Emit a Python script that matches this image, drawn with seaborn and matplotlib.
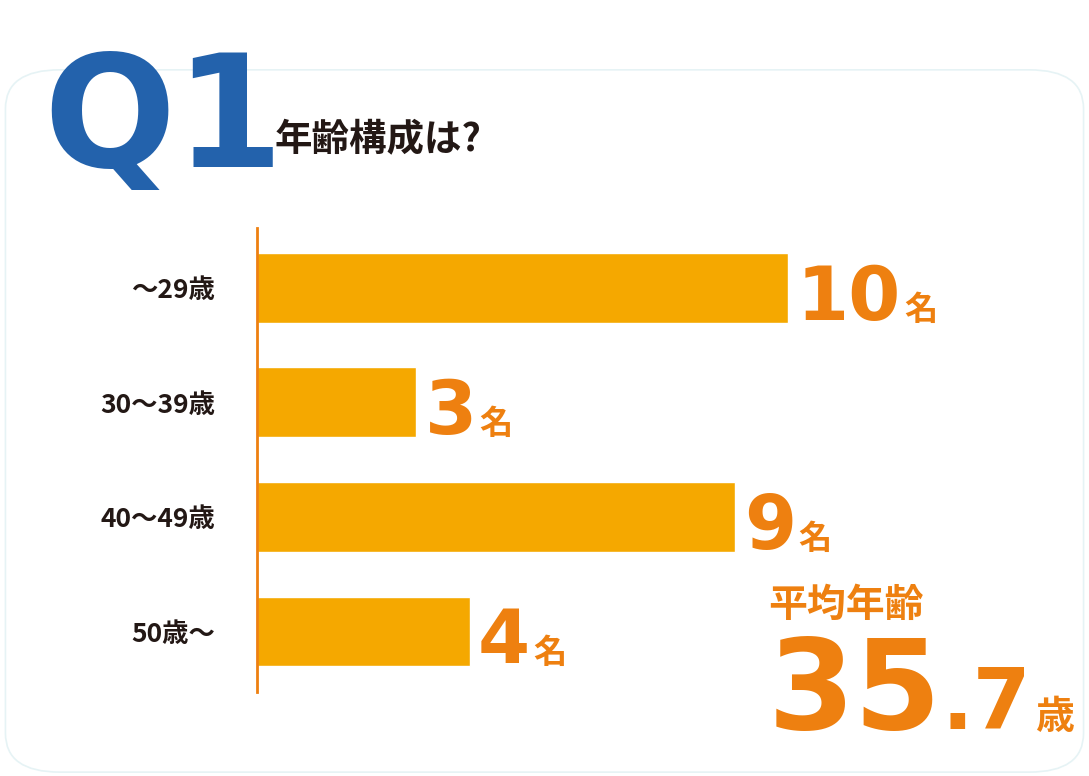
import matplotlib
matplotlib.use("Agg")
import matplotlib.pyplot as plt
import seaborn as sns
import pandas as pd
from matplotlib.patches import FancyBboxPatch

categories = ["～29歳", "30～39歳", "40～49歳", "50歳～"]
counts = [10, 3, 9, 4]
unit = "名"
avg_label = "平均年齢"
avg_int = "35"
avg_dec = ".7"
avg_unit = "歳"

BAR = "#F5A800"
ORANGE = "#EE8010"
BLUE = "#2362AC"
DARK = "#231815"
JP = ["Noto Sans CJK JP", "DejaVu Sans"]
NUM = ["Liberation Sans Narrow", "DejaVu Sans"]

sns.set_style("white")
plt.rcParams["font.family"] = JP

fig = plt.figure(figsize=(10.89, 7.76), dpi=100)
fig.patch.set_facecolor("white")
card = FancyBboxPatch((0.005, 0.005), 0.99, 0.905, boxstyle="round,pad=0,rounding_size=0.05",
                      transform=fig.transFigure, fc="none", ec="#E6F3F5", lw=1.2, zorder=-1)
fig.patches.append(card)

fig.text(0.04, 0.785, "Q1", color=BLUE, fontsize=112, fontweight="bold",
         fontfamily=NUM, va="baseline")
fig.text(0.252, 0.805, "年齢構成は?", color=DARK, fontsize=27, fontweight="bold", va="baseline")

ax = fig.add_axes([0.236, 0.108, 0.732, 0.598])
ax.set_facecolor("none")
df = pd.DataFrame({"cat": categories, "n": counts})
sns.barplot(data=df, x="n", y="cat", color=BAR, width=0.61, saturation=1, ax=ax)
ax.set_xlim(0, 15)
ax.set_ylim(3.53, -0.52)
ax.set_xlabel("")
ax.set_ylabel("")
ax.set_xticks([])
for s in ["top", "right", "bottom"]:
    ax.spines[s].set_visible(False)
ax.spines["left"].set_color(ORANGE)
ax.spines["left"].set_linewidth(2)
ax.tick_params(axis="y", length=0, pad=30, labelsize=19, labelcolor=DARK)
for lab in ax.get_yticklabels():
    lab.set_fontweight("bold")

fig.canvas.draw()
r = fig.canvas.get_renderer()
for i, v in enumerate(counts):
    t = ax.annotate(str(v), (v, i), xytext=(6, -23), textcoords="offset points",
                    color=ORANGE, fontsize=54, fontweight="bold", fontfamily=NUM,
                    va="baseline", ha="left")
    bb = t.get_window_extent(r)
    w = bb.width * 72 / fig.dpi
    ax.annotate(unit, (v, i), xytext=(6 + w + 2, -23), textcoords="offset points",
                color=ORANGE, fontsize=24, fontweight="bold", va="baseline", ha="left")

fig.text(0.705, 0.205, avg_label, color=ORANGE, fontsize=28, fontweight="bold", va="baseline")
t1 = fig.text(0.705, 0.06, avg_int, color=ORANGE, fontsize=90, fontweight="bold",
              fontfamily=NUM, va="baseline")
fig.canvas.draw()
x1 = fig.transFigure.inverted().transform(t1.get_window_extent(r))[1][0]
t2 = fig.text(x1, 0.06, avg_dec, color=ORANGE, fontsize=60, fontweight="bold",
              fontfamily=NUM, va="baseline")
fig.canvas.draw()
x2 = fig.transFigure.inverted().transform(t2.get_window_extent(r))[1][0]
fig.text(x2 + 0.003, 0.06, avg_unit, color=ORANGE, fontsize=28, fontweight="bold", va="baseline")

fig.savefig("out.png", dpi=100)
